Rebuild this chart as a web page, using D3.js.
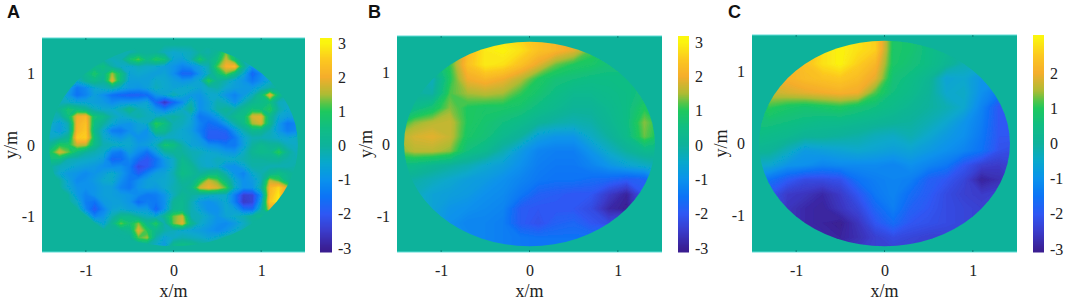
<!DOCTYPE html>
<html>
<head>
<meta charset="utf-8">
<script src="https://cdn.jsdelivr.net/npm/d3@7"></script>
<style>
  html, body { margin: 0; padding: 0; background: white; }
  svg { display: block; }
  text { font-family: "Liberation Serif", serif; fill: #222; }
</style>
</head>
<body>
<div id="chart"></div>
<script>
const xyTicks = [-1, 0, 1];
const barTicksAB = [-3, -2, -1, 0, 1, 2, 3];
const barTicksC = [-3, -2, -1, 0, 1, 2];
const panelLetters = ["A", "B", "C"];

const colorStops = [-3.2, -3, -2.5, -2, -1.5, -1, -0.5, 0, 0.5, 1, 1.2, 1.5, 2, 2.5, 3, 3.2];
const colorHex = ["#3a1c8c", "#3a2095", "#3b3ccb", "#2f58f4", "#0c74f6", "#0a92ec", "#08a8cc", "#0fb29b",
  "#10bd84", "#1ec85e", "#50c54a", "#aebb34", "#f5ad2c", "#fcc820", "#fbf50f", "#fdf80f"];

// rows run y = 1.5 to -1.5, columns x = -1.5 to 1.5, step 0.1
const gridA = [
[0,0,0,0,0,0,0,0,0,0,0,0,0,0,0,0,0,0,0,0,0,0,0,0,0,0,0,0,0,0,0],
[0,0,0,0,0,0,0,0,0,0,0,0,0,0,0,0,0,0,0,0,0,0,0,0,0,0,0,0,0,0,0],
[0,0,0,0,0,0,0,0,0,-.2,-.2,0,0,0,-.3,-.5,-.4,-.3,0,-.1,.2,1.3,.5,0,0,0,0,0,0,0,0],
[0,0,0,0,0,0,0,-.1,-.3,-.2,.7,1.3,.4,1,.7,-.6,-.7,-.2,.9,.1,.6,1.7,.7,-.2,0,0,0,0,0,0,0],
[0,0,0,0,0,0,.3,.6,-.1,-.4,-.5,-.3,-.4,-.5,-.7,-.9,-1.2,-1,-.7,-.2,1.2,2.1,2.3,.2,-.9,-.4,0,0,0,0,0],
[0,0,0,0,-.1,.3,.9,.3,1.5,.6,-.6,-.5,-.6,-.7,-.6,-1,-1.7,-1.7,-.9,-.3,.6,1.3,.5,-.5,-1.7,-1.1,-.3,0,0,0,0],
[0,0,0,-.1,-.4,.1,.4,.1,1.9,.5,-.7,-.7,-.7,-.4,-.5,-.7,-.9,-.8,-.5,1.1,.1,-.2,-.6,-.9,-1.4,-1,-.5,0,0,0,0],
[0,0,-.1,-.6,-1.4,-1.1,-.5,-.3,-.1,-.5,-.8,-.9,-.7,-.3,-.5,-.6,-.5,-.4,-.6,-.3,-.1,-.5,-.7,-.8,-.8,-.4,-.1,0,0,0,0],
[0,0,-.2,-.8,-1.5,-1.2,-.7,-1,-1.5,-1.7,-1.8,-1.8,-1.6,-.9,-.6,-.2,-.5,-.8,-.9,-.5,-.5,-.9,-1.2,-.8,-.3,.5,2,.5,-.1,0,0],
[0,-.1,-.3,-.4,-.6,-.6,-.7,-.8,-1.1,-.9,-.9,-.8,-.6,-1.7,-2.6,-1.7,-1.1,-.2,-1,-.7,-.2,-.4,-1,-.3,.2,.4,.6,-.3,-.4,-.1,0],
[0,-.2,.2,.8,.5,.2,-.3,-.5,-.5,-.2,.3,-.2,-.4,-.9,-1.3,-.8,-.4,.1,-1,-.7,-.1,.1,-.1,.3,.7,.6,1,-.1,-.5,-.4,0],
[0,-.2,-.2,.6,2,2.2,.7,.4,-.2,-.5,-.3,-.1,-.3,-.4,-.2,0,-.2,-.5,-1.4,-1.2,-.8,-.1,.3,.5,1.8,1.9,.3,-.5,-.7,-.6,0],
[0,-.4,-.7,-.2,2.1,2.4,.5,0,-.5,-.8,-.9,-.6,-.4,1.1,.6,-.2,-.3,-.6,-1.2,-1.6,-1.4,-.8,-.1,.4,1.5,1.8,.3,-.8,-1.4,-1.2,-.1],
[0,-.5,-.8,-.3,2.2,2.5,.3,-.5,-1.3,-1.4,-1,-.7,-1,.5,.3,-.3,-.5,-.7,-1.3,-1.8,-1.8,-1.7,-.9,-.2,.3,.2,-.2,-.8,-1.3,-1.1,-.1],
[0,-.4,-.2,.2,2.5,2.6,.6,-.4,-.7,-.9,-.6,-1,-.9,-.6,-.4,-.4,-.5,-.6,-.9,-1.9,-1.9,-1.9,-1.4,-.6,-.2,-.2,-.3,-.5,-.6,-.4,0],
[0,.2,1,.9,1.7,1.6,.4,-.2,-.3,-.4,-.5,-.8,-.7,-.3,.8,.6,-.1,-.6,-.7,-1,-1.1,-1.4,-1.4,-.7,0,.3,.1,.1,-.3,-.4,0],
[0,.9,1.8,1.3,.5,0,-.2,-.4,-1.2,-1.4,-.7,-1.1,-1.5,-.8,-.1,.1,0,-.2,-.3,-.5,-.6,-.8,-.9,-.4,.2,.4,.3,1.1,.1,-.3,0],
[0,.6,.5,-.2,-.3,-.4,-.5,-.7,-1.7,-1.6,-1.1,-1.6,-2,-1.5,-.8,-.4,.3,-.1,-.4,-.5,-.3,-.4,-.4,-.2,0,0,.1,.1,-.1,-.2,0],
[0,0,-.3,-.4,-.6,-.7,-.8,-1,-1.1,-1,-1.3,-2.2,-2,-1.4,-.9,-.4,.4,.2,-.3,-.5,-.4,-.9,-1,-.6,-.1,-.1,-.2,-.2,-.2,-.1,0],
[0,0,-.5,-.8,-.9,-1.1,-.9,-.7,-.4,-.8,-1.3,-1.8,-1.2,-.7,-.6,-.2,.5,.3,0,.3,.4,-.2,-.9,-1.2,-.5,-.2,.2,.5,.2,0,0],
[0,0,0,-.6,-1.1,-1,-.8,-.5,-.4,-1,-1.4,-1,-.7,-.6,-.5,-.3,.2,.1,.8,1.7,1.3,.4,-.5,-1,-.8,-.3,1.7,1.2,.3,0,0],
[0,0,0,-.5,-.9,-1,-.9,-.7,-.7,-1.2,-1.4,-.9,-.7,-.8,-.5,-.2,0,.3,1.7,2,1.8,1.2,-.4,-1,-.9,-.1,2.2,2.7,1.8,0,0],
[0,0,0,0,-.8,-1.2,-.9,-.7,-.7,-.8,-.9,-1.1,-1.4,-1.3,-.9,-.3,.2,0,-.2,-.3,-.4,-.4,-1.3,-2.4,-2.3,-1,2.3,2.9,.8,0,0],
[0,0,0,0,-.4,-1.3,-1.5,-.8,-.7,-.7,-.9,-1.6,-1.3,-1.4,-1,.1,.3,-.2,-.8,-1,-.8,-.5,-1.3,-2.5,-2.3,-.6,2.5,2.9,0,0,0],
[0,0,0,0,0,-1.1,-1.9,-1.2,-.6,-.5,-.7,-.8,-.8,-1.7,-.9,.2,.3,-.2,-.6,-1,-1,-.5,-.7,-1.5,-1.6,-.2,1.9,.5,0,0,0],
[0,0,0,0,0,0,-1.2,-.9,-.2,.3,.3,-.1,-.3,-.5,.2,1.3,1.7,-.2,-.3,-.6,-.9,-.6,-.4,-.2,.1,.3,.1,0,0,0,0],
[0,0,0,0,0,0,0,-.6,.2,1.3,.7,1.4,.3,1,-.2,1.3,1.9,.3,-.4,-.7,-1,-1.1,-.8,-.4,0,0,0,0,0,0,0],
[0,0,0,0,0,0,0,0,0,.1,.3,1.9,1,.3,-.1,-.3,-.5,-.6,-.7,-.9,-1.1,-.9,-.5,-.2,0,0,0,0,0,0,0],
[0,0,0,0,0,0,0,0,0,0,0,1.2,1.5,-.1,-.6,-.4,-.2,-.3,-.4,-.6,-.4,0,0,0,0,0,0,0,0,0,0],
[0,0,0,0,0,0,0,0,0,0,0,0,0,-.4,-.8,.3,.5,.4,.1,0,0,0,0,0,0,0,0,0,0,0,0],
[0,0,0,0,0,0,0,0,0,0,0,0,0,0,0,0,0,0,0,0,0,0,0,0,0,0,0,0,0,0,0]
];

// rows y = 1.5 to -1.5, columns x = -1.5 to 1.5, step 0.2
const gridB = [
[0,0,0,0,2,2.8,2.8,2.6,2.4,2.2,1.2,.8,0,0,0,0],
[0,0,0,.8,2.3,2.9,3,2.8,2.4,2.2,1.9,1.2,.8,0,0,0],
[0,0,.3,1.1,2.4,2.9,2.8,2.4,1.9,1.3,1,.9,.7,.7,0,0],
[0,0,-.3,1,2,2.2,2,1.6,1,.7,.6,.5,.5,.5,.7,0],
[0,0,-.1,1.2,1.5,1.6,1.5,1.1,.8,.5,.3,.3,.4,.5,.7,.6],
[0,.4,.8,1.4,1,.9,.9,.8,.5,.3,.1,.1,.3,.5,1,.7],
[.8,1.4,1.6,1.7,1,.8,.6,.4,.1,-.1,-.2,-.1,.2,.5,1.4,.9],
[1.5,1.8,1.9,1.7,.9,.7,.3,0,-.7,-.9,-.9,-.4,0,.4,1.3,.8],
[1.3,1.6,1.6,1.4,.6,.3,-.2,-.8,-1.2,-1.3,-1.3,-.9,-.4,0,.3,.3],
[.5,.4,.2,0,-.2,-.5,-.7,-1,-1.3,-1.4,-1.4,-1.2,-.9,-.6,-.4,-.2],
[0,-.1,-.3,-.5,-.7,-.8,-1,-1.2,-1.4,-1.5,-1.5,-1.6,-1.7,-1.9,-1.8,-1],
[0,-.3,-.6,-.7,-.8,-1,-1.1,-1.4,-1.8,-1.9,-2,-2,-2.5,-2.9,-2,-1],
[0,-.3,-.6,-.9,-1,-1.1,-1.2,-1.9,-2,-2,-2,-2.2,-2.8,-3,-2,-1],
[0,0,-.6,-1,-1.2,-1.2,-1.3,-1.9,-2.1,-1.8,-1.7,-2,-2.2,-1.7,-1,0],
[0,0,-.5,-1,-1.1,-1.2,-1.3,-1.4,-1.5,-1.5,-1.5,-1.5,-1.4,-1,0,0],
[0,0,0,-.8,-1.1,-1.2,-1.3,-1.4,-1.5,-1.5,-1.4,-1.3,-1.2,-.5,0,0]
];

const gridC = [
[0,0,0,0,2.7,2.9,2.8,2.6,.9,.8,.5,0,0,0,0,0],
[0,0,0,2,2.8,3,2.8,2.6,.9,.8,.5,.3,0,0,0,0],
[0,0,2,2.4,2.8,3,2.6,2.2,.9,.7,.5,.2,-.2,-.4,0,0],
[0,1.9,2.1,2.3,2.4,2.5,2.3,1.9,.7,.5,.2,-.6,-.5,-.9,-1,0],
[.8,1.7,1.8,1.9,2,2.1,2,1.2,.6,.4,.1,-.5,-.4,-1,-1.4,-1],
[.7,1.1,.9,.8,.9,1,.8,.6,.4,.2,0,-.2,-.5,-1.2,-2,-1.8],
[.7,.7,.6,.5,.4,.4,.3,.2,.1,0,-.2,-.5,-.9,-1.3,-2,-2],
[.5,.4,.3,.1,.1,0,-.1,-.3,-.4,-.2,-.5,-.8,-1,-1.4,-2,-2],
[.2,.1,-.3,-.8,-.7,-.6,-.5,-.6,-.7,-.6,-.8,-1,-1.2,-1.5,-2.1,-2.2],
[-.4,-.5,-.9,-1,-1.2,-1.1,-1.1,-1.1,-1.2,-1,-1.2,-1.4,-2,-2.4,-2.5,-2.3],
[-1.2,-1.5,-1.9,-2.2,-2.2,-2.1,-1.5,-1.3,-1.2,-1.3,-1.8,-2,-2.3,-2.9,-2.7,-2.4],
[-1.5,-2,-2.5,-2.6,-2.8,-2.5,-2,-1.4,-1.2,-1.6,-1.9,-2.2,-2.4,-2.5,-2.4,-2.2],
[-1.5,-2,-2.6,-2.8,-2.9,-2.6,-2.3,-1.7,-1.3,-1.8,-2,-2.2,-2.3,-2.4,-2.3,-2],
[-1,-2,-2.6,-2.8,-2.9,-3,-2.6,-2,-1.6,-2,-2.1,-2.2,-2.3,-2.4,-2,-1],
[0,-1,-2,-2.6,-2.8,-2.9,-2.7,-2.4,-2.2,-2.3,-2.4,-2.4,-2.3,-2,-1,0],
[0,0,-1,-2,-2.5,-2.6,-2.5,-2.4,-2.4,-2.4,-2.4,-2.3,-2.2,-1,0,0]
];

const width = 1065, height = 300;
const color = d3.scaleLinear().domain(colorStops).range(colorHex);
const thresholds = d3.range(-3.2, 3.2, 0.05);

const svg = d3.select("#chart").append("svg")
  .attr("width", width)
  .attr("height", height);

const defs = svg.append("defs");
defs.append("filter").attr("id", "soft")
  .attr("x", "-5%").attr("y", "-5%").attr("width", "110%").attr("height", "110%")
  .append("feGaussianBlur").attr("stdDeviation", 0.7);

const panels = [
  { grid: gridA, letter: panelLetters[0], letterX: 7, left: 42, right: 305, top: 38, bottom: 252,
    barLeft: 320, barRight: 332, barTicks: barTicksAB, barY3: 43, barYm3: 248 },
  { grid: gridB, letter: panelLetters[1], letterX: 368, left: 397, right: 662, top: 36, bottom: 252,
    barLeft: 678, barRight: 689, barTicks: barTicksAB, barY3: 42, barYm3: 248 },
  { grid: gridC, letter: panelLetters[2], letterX: 728, left: 752, right: 1017, top: 35, bottom: 252,
    barLeft: 1033, barRight: 1044, barTicks: barTicksC, barY3: 38, barYm3: 249 }
];

panels.forEach((p, i) => {
  const g = svg.append("g");
  const x = d3.scaleLinear().domain([-1.5, 1.5]).range([p.left, p.right]);
  const y = d3.scaleLinear().domain([-1.5, 1.5]).range([p.bottom, p.top]);

  g.append("text")
    .attr("x", p.letterX).attr("y", 18)
    .style("font-family", '"Liberation Sans", sans-serif')
    .style("font-weight", "bold")
    .style("font-size", "18px")
    .style("fill", "#111")
    .text(p.letter);

  // a mask, not a clipPath: clipping each stacked contour lets the dark low layers show at the rim
  const discId = "disc" + i, plotId = "plot" + i;
  defs.append("mask").attr("id", discId)
    .attr("maskUnits", "userSpaceOnUse")
    .attr("x", 0).attr("y", 0).attr("width", width).attr("height", height)
    .append("ellipse")
    .attr("cx", x(0)).attr("cy", y(0))
    .attr("rx", x(1.42) - x(0)).attr("ry", y(0) - y(1.42))
    .attr("fill", "white");
  defs.append("clipPath").attr("id", plotId)
    .append("rect")
    .attr("x", p.left).attr("y", p.top)
    .attr("width", p.right - p.left).attr("height", p.bottom - p.top);

  const n = p.grid.length;
  // d3.contours puts grid value k at coordinate k + 0.5
  const px = d3.scaleLinear().domain([0.5, n - 0.5]).range([p.left, p.right]);
  const py = d3.scaleLinear().domain([0.5, n - 0.5]).range([p.top, p.bottom]);
  const contours = d3.contours().size([n, n]).thresholds(thresholds)(p.grid.flat());
  const path = d3.geoPath(d3.geoTransform({
    point(a, b) { this.stream.point(px(a), py(b)); }
  }));

  const outer = g.append("g").attr("clip-path", `url(#${plotId})`);
  const soft = outer.append("g").attr("filter", "url(#soft)");
  soft.append("rect")
    .attr("x", p.left - 5).attr("y", p.top - 5)
    .attr("width", p.right - p.left + 10).attr("height", p.bottom - p.top + 10)
    .attr("fill", color(0));
  soft.append("g").attr("mask", `url(#${discId})`)
    .selectAll("path")
    .data(contours)
    .enter()
    .append("path")
    .attr("d", path)
    .attr("fill", d => color(d.value));

  // pale edge the plot box has along top and bottom
  g.selectAll(".edge")
    .data([p.top, p.bottom])
    .enter()
    .append("line")
    .attr("x1", p.left).attr("x2", p.right)
    .attr("y1", d => d).attr("y2", d => d)
    .attr("stroke", "#5fdcd6")
    .attr("stroke-width", 1);

  // short inward ticks, barely visible in the reference
  g.append("g").selectAll("line")
    .data(xyTicks)
    .enter()
    .append("line")
    .attr("x1", d => x(d)).attr("x2", d => x(d))
    .attr("y1", p.top).attr("y2", p.top + 2)
    .attr("stroke", "#0a8078");
  g.append("g").selectAll("line")
    .data(xyTicks)
    .enter()
    .append("line")
    .attr("x1", d => x(d)).attr("x2", d => x(d))
    .attr("y1", p.bottom - 2).attr("y2", p.bottom)
    .attr("stroke", "#0a8078");

  const xAxis = g.append("g")
    .attr("transform", `translate(0,${p.bottom + 13})`)
    .call(d3.axisBottom(x).tickValues(xyTicks).tickSize(0).tickFormat(d => String(d)));
  xAxis.select(".domain").remove();
  xAxis.selectAll("text").style("font-size", "16px").attr("y", 0).attr("dy", "0.71em");

  const yAxis = g.append("g")
    .attr("transform", `translate(${p.left - 7},0)`)
    .call(d3.axisLeft(y).tickValues(xyTicks).tickSize(0).tickFormat(d => String(d)));
  yAxis.select(".domain").remove();
  yAxis.selectAll("text").style("font-size", "16px").attr("x", 0);

  g.append("text")
    .attr("x", x(0)).attr("y", 297)
    .attr("text-anchor", "middle")
    .style("font-size", "18px")
    .text("x/m");

  g.append("text")
    .attr("transform", `translate(${p.left - 25},${y(0)}) rotate(-90)`)
    .attr("text-anchor", "middle")
    .style("font-size", "18px")
    .text("y/m");

  // colorbar
  const barTop = p.barTicks[p.barTicks.length - 1];
  const barY = d3.scaleLinear().domain([-3, barTop])
    .range([p.barYm3, barTop === 3 ? p.barY3 : 73]);
  const barValues = d3.range(p.bottom, p.top, -1).map(py0 => barY.invert(py0));
  g.append("g").selectAll("rect")
    .data(barValues)
    .enter()
    .append("rect")
    .attr("x", p.barLeft)
    .attr("width", p.barRight - p.barLeft)
    .attr("y", d => barY(d) - 1)
    .attr("height", 1.5)
    .attr("fill", d => color(d));

  const barAxis = g.append("g")
    .attr("transform", `translate(${p.barRight + 6},0)`)
    .call(d3.axisRight(barY).tickValues(p.barTicks).tickSize(0).tickFormat(d => String(d)));
  barAxis.select(".domain").remove();
  barAxis.selectAll("text").style("font-size", "16px").attr("x", 0);
});
</script>
</body>
</html>
